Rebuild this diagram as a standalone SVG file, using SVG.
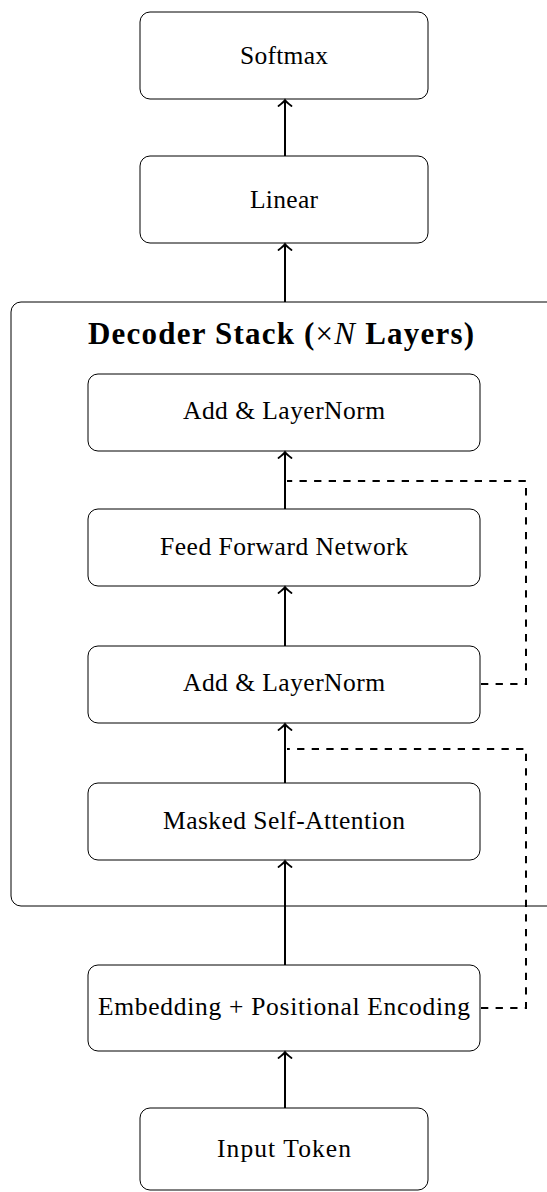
<svg xmlns="http://www.w3.org/2000/svg" width="547" height="1192" viewBox="0 0 547 1192">
<style>
.box{fill:#fff;stroke:#000;stroke-width:1}
.lbl{font-family:"Liberation Serif","Times New Roman",serif;font-size:25.5px;fill:#000;text-anchor:middle}
.ttl{font-family:"Liberation Serif","Times New Roman",serif;font-size:31px;font-weight:bold;fill:#000;text-anchor:middle}
.arr{fill:none;stroke:#000;stroke-width:2;marker-end:url(#hd)}
.dsh{fill:none;stroke:#000;stroke-width:2;stroke-dasharray:7.3 7.3}
</style>
<defs>
<marker id="hd" viewBox="-8 -8 10 16" markerWidth="10" markerHeight="16" refX="0" refY="0" orient="auto" markerUnits="userSpaceOnUse">
<path d="M-6,-6.5 Q-2,-1.2 0,0 Q-2,1.2 -6,6.5" fill="none" stroke="#000" stroke-width="1.8" stroke-linecap="round"/>
</marker>
</defs>
<rect width="547" height="1192" fill="#fff"/>
<g id="stack">
<rect class="box" x="11" y="302" width="570" height="604" rx="10"/>
<text class="ttl" x="281" y="344" textLength="386" lengthAdjust="spacing">Decoder Stack (<tspan font-weight="normal">×</tspan><tspan font-weight="normal" font-style="italic">N</tspan> Layers)</text>
</g>
<g id="softmax"><rect class="box" x="140" y="12" width="288" height="87" rx="10"/><text class="lbl" x="284" y="64" textLength="88" lengthAdjust="spacing">Softmax</text></g>
<g id="linear"><rect class="box" x="140" y="156" width="288" height="87" rx="10"/><text class="lbl" x="284" y="208" textLength="68" lengthAdjust="spacing">Linear</text></g>
<g id="addnorm1"><rect class="box" x="88" y="374" width="392" height="77" rx="10"/><text class="lbl" x="284" y="419" textLength="202" lengthAdjust="spacing">Add &amp; LayerNorm</text></g>
<g id="ffn"><rect class="box" x="88" y="509" width="392" height="77" rx="10"/><text class="lbl" x="284" y="555" textLength="248" lengthAdjust="spacing">Feed Forward Network</text></g>
<g id="addnorm2"><rect class="box" x="88" y="646" width="392" height="77" rx="10"/><text class="lbl" x="284" y="691" textLength="202" lengthAdjust="spacing">Add &amp; LayerNorm</text></g>
<g id="msa"><rect class="box" x="88" y="783" width="392" height="77" rx="10"/><text class="lbl" x="284" y="829" textLength="242" lengthAdjust="spacing">Masked Self-Attention</text></g>
<g id="embed"><rect class="box" x="88" y="965" width="392" height="86" rx="10"/><text class="lbl" x="284" y="1015" textLength="372" lengthAdjust="spacing">Embedding + Positional Encoding</text></g>
<g id="input"><rect class="box" x="140" y="1108" width="288" height="82" rx="10"/><text class="lbl" x="284" y="1157" textLength="134" lengthAdjust="spacing">Input Token</text></g>
<g id="connectors">
<path class="arr" d="M285,156 V100"/>
<path class="arr" d="M285,302 V244"/>
<path class="arr" d="M285,509 V452"/>
<path class="arr" d="M285,646 V587"/>
<path class="arr" d="M285,783 V724"/>
<path class="arr" d="M285,965 V861"/>
<path class="arr" d="M285,1108 V1052"/>
<path class="dsh" d="M481,684 H526 V481 H287"/>
<path class="dsh" d="M481,1008 H526 V749 H287"/>
</g>
</svg>
